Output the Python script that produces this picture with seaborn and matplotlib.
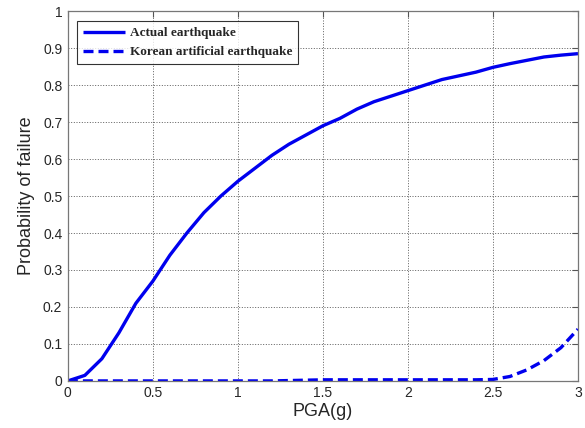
import numpy as np
import pandas as pd
import seaborn as sns
import matplotlib
matplotlib.use("Agg")
import matplotlib.pyplot as plt

pga = [0.0, 0.1, 0.2, 0.3, 0.4, 0.5, 0.6, 0.7, 0.8, 0.9, 1.0, 1.1, 1.2, 1.3, 1.4, 1.5,
       1.6, 1.7, 1.8, 1.9, 2.0, 2.1, 2.2, 2.3, 2.4, 2.5, 2.6, 2.7, 2.8, 2.9, 3.0]
actual = [0.0, 0.015, 0.06, 0.13, 0.21, 0.27, 0.34, 0.40, 0.455, 0.50, 0.54, 0.575, 0.61,
          0.64, 0.665, 0.69, 0.71, 0.735, 0.755, 0.77, 0.785, 0.80, 0.815, 0.825, 0.835,
          0.848, 0.858, 0.867, 0.876, 0.881, 0.885]
korean = [0.0, 0.0, 0.0, 0.0, 0.0, 0.0, 0.0, 0.0, 0.0, 0.0, 0.0, 0.0, 0.0, 0.001, 0.002,
          0.003, 0.003, 0.003, 0.003, 0.003, 0.003, 0.003, 0.003, 0.003, 0.003, 0.004,
          0.012, 0.03, 0.055, 0.09, 0.14]
labels = ["Actual earthquake", "Korean artificial earthquake"]

df = pd.DataFrame({"PGA": pga * 2, "P": actual + korean,
                   "Series": [labels[0]] * len(pga) + [labels[1]] * len(pga)})

sns.set_style("white")
plt.rcParams['font.family'] = ['Liberation Sans', 'DejaVu Sans']

fig = plt.figure(figsize=(5.85, 4.28), dpi=100)
ax = fig.add_axes([0.116, 0.110, 0.872, 0.864])

sns.lineplot(data=df, x="PGA", y="P", hue="Series", style="Series",
             palette=["#0000ee", "#0000ee"], dashes=[(1, 0), (3, 1.5)],
             linewidth=2.4, ax=ax, legend=True)

ax.set_xlim(0, 3)
ax.set_ylim(0, 1)
ax.set_xticks([0, 0.5, 1, 1.5, 2, 2.5, 3])
ax.set_xticklabels(["0", "0.5", "1", "1.5", "2", "2.5", "3"])
ax.set_yticks(np.arange(0, 1.01, 0.1))
ax.set_yticklabels(["0", "0.1", "0.2", "0.3", "0.4", "0.5", "0.6", "0.7", "0.8", "0.9", "1"])
ax.grid(True, linestyle=(0, (1.2, 2)), color="#444444", linewidth=0.6)
ax.tick_params(direction="in", length=4, top=True, right=True, labelsize=10, color="#555555",
               pad=4)
for s in ax.spines.values():
    s.set_color("#777777")
    s.set_linewidth(0.9)
ax.set_xlabel("PGA(g)", fontsize=13, labelpad=2)
ax.set_ylabel("Probability of failure", fontsize=13, labelpad=6)

handles, lbls = ax.get_legend_handles_labels()
leg = ax.legend(handles, lbls, loc="upper left", bbox_to_anchor=(0.012, 0.98),
                prop={"family": "Liberation Serif", "weight": "bold", "size": 9.5},
                frameon=True, fancybox=False, edgecolor="black", handlelength=3.2,
                borderpad=0.45, labelspacing=0.5, handletextpad=0.4, borderaxespad=0.2)
leg.get_frame().set_linewidth(0.8)
for line in leg.get_lines():
    line.set_linewidth(2.4)

fig.savefig("out.png", dpi=100, facecolor="white")
